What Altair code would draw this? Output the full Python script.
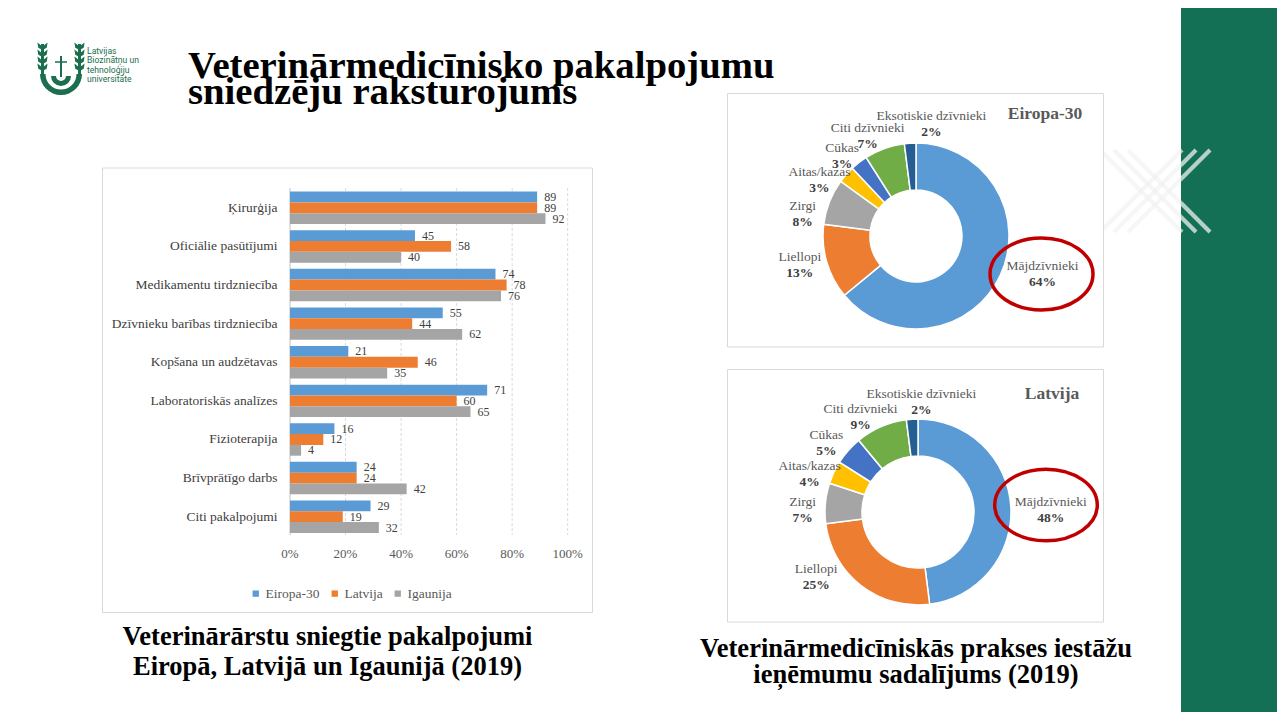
import altair as alt
import pandas as pd

# page margin offset (reference pixel coords -> chart coords)
OX, OY = 8, 8


def px(x):
    return x - OX


def py(y):
    return y - OY


# ---------------- data ----------------
categories = [
    "Ķirurģija",
    "Oficiālie pasūtījumi",
    "Medikamentu tirdzniecība",
    "Dzīvnieku barības tirdzniecība",
    "Kopšana un audzētavas",
    "Laboratoriskās analīzes",
    "Fizioterapija",
    "Brīvprātīgo darbs",
    "Citi pakalpojumi",
]
series = ["Eiropa-30", "Latvija", "Igaunija"]
eiropa_30 = [89, 45, 74, 55, 21, 71, 16, 24, 29]
latvija = [89, 58, 78, 44, 46, 60, 12, 24, 19]
igaunija = [92, 40, 76, 62, 35, 65, 4, 42, 32]
x_ticks = [0, 20, 40, 60, 80, 100]

animal_types = [
    "Mājdzīvnieki",
    "Liellopi",
    "Zirgi",
    "Aitas/kazas",
    "Cūkas",
    "Citi dzīvnieki",
    "Eksotiskie dzīvnieki",
]
share_eiropa = [64, 13, 8, 3, 3, 7, 2]
share_latvija = [48, 25, 7, 4, 5, 9, 2]

logo_lines = ["Latvijas", "Biozinātņu un", "tehnoloģiju", "universitāte"]
title_lines = ["Veterinārmedicīnisko pakalpojumu", "sniedzēju raksturojums"]
caption_left = ["Veterinārārstu sniegtie pakalpojumi", "Eiropā, Latvijā un Igaunijā (2019)"]
caption_right = ["Veterinārmedicīniskās prakses iestāžu", "ieņēmumu sadalījums (2019)"]

# ---------------- styles ----------------
bar_colors = ["#5B9BD5", "#ED7D31", "#A5A5A5"]
donut_colors = ["#5B9BD5", "#ED7D31", "#A5A5A5", "#FFC000", "#4472C4", "#70AD47", "#255E91"]
GREEN = "#147054"
LOGO_GREEN = "#1B6E4E"
SERIF = "Liberation Serif"
ONE = pd.DataFrame({"a": [0]})

# label placement tweaks (pixel nudges of each two-line donut label, like Excel's "best fit")
nudge_eiropa = {
    "Mājdzīvnieki": (16, -14), "Liellopi": (1, -5), "Zirgi": (0, 23), "Aitas/kazas": (-5, 25),
    "Cūkas": (1, 16), "Citi dzīvnieki": (-7, 15), "Eksotiskie dzīvnieki": (23, 10),
}
nudge_latvija = {
    "Mājdzīvnieki": (11, 6), "Liellopi": (-27, -31), "Zirgi": (6, 9), "Aitas/kazas": (2, 14),
    "Cūkas": (0, 12), "Citi dzīvnieki": (-9, 17), "Eksotiskie dzīvnieki": (11, 12),
}


def box(x1, y1, x2, y2, fill="white", stroke="#D9D9D9", sw=1.0):
    return alt.Chart(ONE).mark_rect(fill=fill, stroke=stroke, strokeWidth=sw).encode(
        x=alt.value(px(x1)), x2=alt.value(px(x2)), y=alt.value(py(y1)), y2=alt.value(py(y2))
    )


def label(text, x, y, size, bold=False, color="black", align="left", baseline="alphabetic", font=SERIF):
    return alt.Chart(ONE).mark_text(
        text=text, align=align, baseline=baseline, font=font, fontSize=size,
        fontWeight="bold" if bold else "normal", color=color,
    ).encode(x=alt.value(px(x)), y=alt.value(py(y)))


def seg(x1, y1, x2, y2, color, sw, opacity=1.0):
    return alt.Chart(ONE).mark_rule(color=color, strokeWidth=sw, opacity=opacity).encode(
        x=alt.value(px(x1)), y=alt.value(py(y1)), x2=alt.value(px(x2)), y2=alt.value(py(y2))
    )


def leaf(x, y, angle):
    return alt.Chart(ONE).mark_point(
        shape="M0,-1L0.45,0.2L0,1L-0.45,0.2Z", size=70, filled=True, color=LOGO_GREEN,
        angle=angle, opacity=1,
    ).encode(x=alt.value(px(x)), y=alt.value(py(y)))


layers = []

# ---------------- slide decoration ----------------
layers.append(box(1181, 0, 1290, 740, fill=GREEN, stroke=GREEN, sw=0))
for k in range(3):
    d = k * 14
    layers.append(seg(1100 + d, 150, 1182 + d, 232, "#F0F0F0", 4, 0.6))
    layers.append(seg(1100 + d, 232, 1182 + d, 150, "#F0F0F0", 4, 0.6))
for k in range(3):
    d = k * 14
    # lighter strokes where the pattern crosses the green band
    x_start = 1181
    layers.append(seg(x_start, 150 + (x_start - 1100 - d), 1182 + d, 232, "white", 4, 0.3))
    layers.append(seg(x_start, 232 - (x_start - 1100 - d), 1182 + d, 150, "white", 4, 0.3))

# ---------------- logo ----------------
layers.append(
    alt.Chart(ONE).mark_arc(theta=1.5708, theta2=4.7124, radius=21, radius2=15.5, color=LOGO_GREEN)
    .encode(x=alt.value(px(61)), y=alt.value(py(74)))
)
layers.append(seg(42.5, 44, 42.5, 75, LOGO_GREEN, 3))
layers.append(seg(79.5, 44, 79.5, 75, LOGO_GREEN, 3))
for yy in [46, 53, 60, 67]:
    layers.append(leaf(39.5, yy, 330))
    layers.append(leaf(45.5, yy, 30))
    layers.append(leaf(76.5, yy, 330))
    layers.append(leaf(82.5, yy, 30))
layers.append(
    alt.Chart(ONE).mark_arc(theta=1.5708, theta2=4.7124, radius=10, radius2=5, color=LOGO_GREEN)
    .encode(x=alt.value(px(61)), y=alt.value(py(76)))
)
layers.append(seg(61, 56, 61, 77, LOGO_GREEN, 2))
layers.append(seg(55, 62, 67, 62, LOGO_GREEN, 1.5))
for i, t in enumerate(logo_lines):
    layers.append(label(t, 87, 54 + i * 9.4, 8.6, color=LOGO_GREEN, font="Roboto"))

# ---------------- title ----------------
layers.append(label(title_lines[0], 188, 77.5, 38.7, bold=True))
layers.append(label(title_lines[1], 188, 104, 38.7, bold=True))

# ---------------- bar chart panel ----------------
layers.append(box(102.5, 168, 592.5, 612.5))

bar_df = pd.DataFrame({
    "cat": categories * 3,
    "series": [s for s in series for _ in categories],
    "val": eiropa_30 + latvija + igaunija,
})
tick_df = pd.DataFrame({"t": x_ticks})
cat_df = pd.DataFrame({"cat": categories})

xs = alt.Scale(domain=[0, 100], range=[px(290), px(567.7)])
ys = alt.Scale(domain=categories, range=[py(188.5), py(536)], paddingInner=0.16, paddingOuter=0.08)
yo = alt.Scale(domain=series, paddingInner=0, paddingOuter=0)

grid = alt.Chart(tick_df).transform_filter("datum.t > 0").mark_rule(
    color="#D9D9D9", strokeDash=[3, 2], strokeWidth=1
).encode(x=alt.X("t:Q", scale=xs, axis=None), y=alt.value(py(188)), y2=alt.value(py(535)))
axis_line = alt.Chart(tick_df).transform_filter("datum.t == 0").mark_rule(
    color="#BFBFBF", strokeWidth=1
).encode(x=alt.X("t:Q", scale=xs, axis=None), y=alt.value(py(188)), y2=alt.value(py(535)))
bars = alt.Chart(bar_df).mark_bar().encode(
    x=alt.X("val:Q", scale=xs, axis=None),
    y=alt.Y("cat:N", scale=ys, axis=None),
    yOffset=alt.YOffset("series:N", scale=yo),
    color=alt.Color(
        "series:N",
        scale=alt.Scale(domain=series, range=bar_colors),
        legend=alt.Legend(
            orient="none", legendX=px(249), legendY=py(586.5), direction="horizontal", title=None,
            symbolType="square", symbolSize=40, symbolStrokeWidth=0, labelFont=SERIF,
            labelFontSize=13.5, labelColor="#595959", columnPadding=8, labelOffset=3, padding=0,
        ),
    ),
)
val_labels = alt.Chart(bar_df).mark_text(
    align="left", baseline="middle", dx=7, font=SERIF, fontSize=12, color="#404040"
).encode(
    x=alt.X("val:Q", scale=xs, axis=None),
    y=alt.Y("cat:N", scale=ys, axis=None),
    yOffset=alt.YOffset("series:N", scale=yo),
    text="val:Q",
)
tick_labels = alt.Chart(tick_df).transform_calculate(lbl="datum.t + '%'").mark_text(
    align="center", baseline="middle", font=SERIF, fontSize=13, color="#595959"
).encode(x=alt.X("t:Q", scale=xs, axis=None), y=alt.value(py(554)), text="lbl:N")
cat_labels = alt.Chart(cat_df).mark_text(
    align="right", baseline="middle", font=SERIF, fontSize=13.5, color="#404040"
).encode(y=alt.Y("cat:N", scale=ys, axis=None), x=alt.value(px(277.5)), text="cat:N")

bar_chart = alt.layer(grid, axis_line, bars, val_labels, tick_labels, cat_labels)
layers.append(bar_chart)

for i, t in enumerate(caption_left):
    layers.append(label(t, 327.5, 644.5 + i * 30, 26.5, bold=True, align="center"))


# ---------------- donuts ----------------
def donut(shares, cx, cy, r_out, r_in, r_lbl, nudges):
    df = pd.DataFrame({"cat": animal_types, "v": shares, "i": list(range(len(shares)))})
    df["pct"] = df["v"].astype(str) + "%"
    base = alt.Chart(df).encode(
        theta=alt.Theta("v:Q", stack=True),
        order=alt.Order("i:Q"),
        x=alt.value(px(cx)),
        y=alt.value(py(cy)),
    )
    parts = [
        base.mark_arc(outerRadius=r_out, innerRadius=r_in, stroke="white", strokeWidth=1.5).encode(
            color=alt.Color("cat:N", scale=alt.Scale(domain=animal_types, range=donut_colors), legend=None)
        )
    ]
    for c in animal_types:
        ndx, ndy = nudges[c]
        parts.append(
            base.mark_text(radius=r_lbl, dx=ndx, dy=ndy - 8, font=SERIF, fontSize=13.5, color="#595959")
            .encode(text=alt.condition(alt.datum.cat == c, alt.Text("cat:N"), alt.value("")))
        )
        parts.append(
            base.mark_text(radius=r_lbl, dx=ndx, dy=ndy + 8, font=SERIF, fontSize=13.5,
                           fontWeight="bold", color="#404040")
            .encode(text=alt.condition(alt.datum.cat == c, alt.Text("pct:N"), alt.value("")))
        )
    return alt.layer(*parts)


ELLIPSE = ("M-1,0C-1,-0.386,-0.552,-0.699,0,-0.699C0.552,-0.699,1,-0.386,1,0"
           "C1,0.386,0.552,0.699,0,0.699C-0.552,0.699,-1,0.386,-1,0Z")


def ellipse(cx, cy, rx):
    return alt.Chart(ONE).mark_point(
        shape=ELLIPSE, size=(2 * rx) ** 2, filled=False, stroke="#C00000", strokeWidth=3.5, opacity=1
    ).encode(x=alt.value(px(cx)), y=alt.value(py(cy)))


layers.append(box(727.5, 93.5, 1103.5, 347))
layers.append(donut(share_eiropa, 916, 236, 93, 46, 122, nudge_eiropa))
layers.append(label("Eiropa-30", 1045, 114, 17.5, bold=True, color="#595959", align="center", baseline="middle"))
layers.append(ellipse(1041.5, 274, 51.5))

layers.append(box(727.5, 369.5, 1103.5, 622))
layers.append(donut(share_latvija, 918, 512, 93, 56, 122, nudge_latvija))
layers.append(label("Latvija", 1052, 394, 17.5, bold=True, color="#595959", align="center", baseline="middle"))
layers.append(ellipse(1046, 505, 51.3))

for i, t in enumerate(caption_right):
    layers.append(label(t, 916, 657 + i * 26, 26.5, bold=True, align="center"))

chart = alt.layer(*layers).resolve_scale(
    x="independent", y="independent", color="independent", theta="independent"
).properties(
    width=1269, height=704, padding=0, background="white",
    autosize=alt.AutoSizeParams(type="none"),
).configure_view(stroke=None)

chart.save("out.html", embed_options={"renderer": "svg", "actions": False})
